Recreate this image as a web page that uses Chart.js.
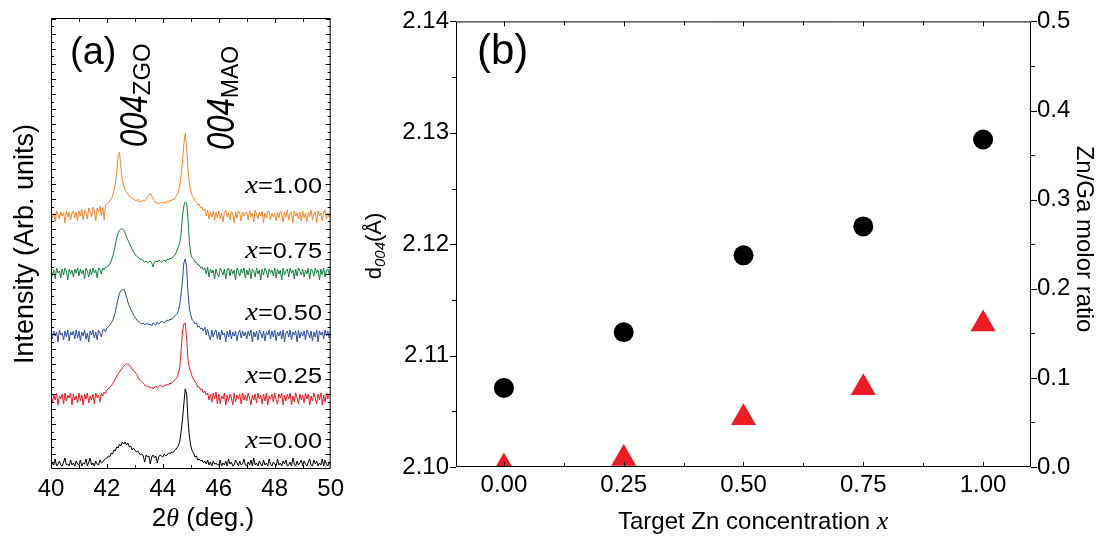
<!DOCTYPE html>
<html>
<head>
<meta charset="utf-8">
<script src="https://cdn.jsdelivr.net/npm/chart.js@4.4.0/dist/chart.umd.min.js"></script>
<style>
  body { margin: 0; background: #fff; }
  #wrap { position: relative; width: 1105px; height: 542px; }
  #xrd { position: absolute; left: 0; top: 0; }
  #dsp { position: absolute; left: 350px; top: 0; }
</style>
</head>
<body>
<div id="wrap">
  <canvas id="xrd" width="350" height="542"></canvas>
  <canvas id="dsp" width="755" height="542"></canvas>
</div>
<script>
// ---- (a) XRD scans, 2theta 40..50 deg, 0.05 deg step ----
const twoTheta = Array.from({ length: 201 }, (_, i) => +(40 + i * 0.05).toFixed(2));

// intensity above each trace's own baseline (arb. units), one row per degree
const scanX100 = [
  2, -4, 1, -8, 3, 0, -5, 2, -2, 1, -9, 3, -3, 2, -6, 1, 3, -4, 2, -7,
  3, -2, 5, -6, 4, 1, -5, 6, 2, -3, 7, 3, -7, 6, 2, 8, -2, 7, -6, 9,
  10, 11, 13, 15, 18, 23, 30, 42, 58, 62, 46, 34, 28, 24, 22, 20, 18, 17, 16, 15,
  14, 13, 15, 12, 13, 12, 14, 13, 15, 17, 19, 21, 18, 15, 13, 11, 12, 10, 11, 12,
  11, 12, 10, 13, 12, 14, 13, 15, 14, 17, 19, 22, 28, 38, 52, 70, 81, 66, 44, 30,
  23, 18, 17, 13, 12, 9, 10, 6, 7, 3, 5, -2, 4, -5, 2, -3, 3, -6, 2, -4,
  3, -5, 1, -8, 2, 4, -3, 1, -6, 3, 0, -9, 2, -4, 3, 1, -7, 2, -2, 1,
  2, -6, 3, -3, 1, -8, 4, 0, -5, 2, -2, 3, -9, 1, -4, 3, 2, -6, 1, -3,
  1, -7, 2, -4, 3, 0, -8, 2, -3, 4, -6, 1, 2, -9, 3, -2, 1, -5, 2, -7,
  3, -4, 1, -8, 2, -3, 4, -6, 0, 2, -9, 3, -2, 1, -7, 2, 4, -5, 1, -3,
  1
];
const scanX075 = [
  2, -5, 1, -8, 3, -2, 0, -7, 2, -4, 3, 0, -9, 2, -3, 1, -6, 2, -2, 3,
  -5, 2, -3, 1, -8, 3, 0, -6, 2, -4, 3, -2, 1, -7, 3, 2, -3, 3, 1, 4,
  4, 5, 7, 10, 14, 19, 26, 33, 38, 41, 42, 42, 41, 38, 34, 31, 28, 25, 22, 19,
  17, 15, 14, 13, 11, 12, 10, 9, 10, 8, 9, 10, 8, 4, 9, 10, 9, 11, 10, 9,
  10, 11, 9, 12, 11, 13, 12, 14, 15, 17, 20, 24, 28, 36, 55, 65, 69, 68, 52, 28,
  17, 13, 12, 9, 9, 6, 6, 3, 4, 1, 3, -3, 4, -6, 2, -2, 1, -8, 2, -3,
  -6, 3, 0, -4, 2, -8, 1, 3, -5, 2, -3, 1, -9, 3, 0, -5, 2, -2, 3, -7,
  1, -4, 3, -8, 2, 0, -6, 3, -3, 1, -9, 2, -4, 3, 0, -7, 2, -2, 1, -5,
  3, -7, 2, -3, 1, -9, 3, -4, 0, 2, -6, 3, -2, 1, -8, 2, -5, 3, 0, -4,
  2, -6, 1, -3, 3, -8, 2, 0, -5, 3, -2, 1, -9, 2, -4, 3, -6, 1, 2, -3,
  2
];
const scanX050 = [
  0, -6, 2, -3, 1, -9, 3, -2, 0, -7, 2, -4, 3, -8, 1, -2, 2, -6, 3, -5,
  2, -8, 1, -3, 3, -6, 0, -9, 2, -2, 3, -5, 1, -7, 3, 0, -4, 3, 4, 1,
  5, 6, 8, 10, 12, 16, 21, 28, 34, 40, 42, 43, 44, 41, 36, 31, 27, 24, 21, 18,
  16, 14, 12, 11, 10, 9, 10, 8, 9, 10, 8, 9, 7, 10, 9, 8, 11, 9, 10, 12,
  11, 10, 12, 13, 12, 14, 13, 15, 16, 18, 19, 22, 28, 38, 52, 70, 74, 66, 40, 24,
  18, 13, 12, 9, 10, 6, 7, 4, 5, 2, 6, -2, 4, -3, -7, 3, -4, 1, 3, -6,
  1, -7, 3, -2, 0, -9, 2, -4, 3, -6, 1, -3, 2, -8, 0, 3, -5, 2, -3, 1,
  -6, 2, -3, 3, -9, 1, -4, 2, -7, 3, 0, -5, 2, -8, 1, -2, 3, -6, 2, -4,
  3, -8, 1, -3, 2, -6, 3, -9, 0, 2, -4, 3, -7, 1, -2, 2, -9, 3, -5, 1,
  -3, 2, -7, 3, 0, -5, 2, -8, 1, -4, 3, -9, 2, -2, 1, -6, 3, -3, 2, -5,
  2
];
const scanX025 = [
  2, -7, 1, -4, 3, -9, 0, -3, 2, -8, 3, -5, 1, -2, 3, -9, 2, -4, 0, -7,
  3, -5, 1, -9, 2, -3, 3, -7, 0, -4, 2, -8, 3, -2, 1, -6, 3, 0, 4, 2,
  6, 7, 9, 10, 12, 14, 17, 20, 22, 24, 26, 28, 30, 31, 32, 32, 31, 29, 27, 25,
  24, 22, 20, 17, 15, 14, 13, 11, 10, 9, 10, 8, 9, 7, 9, 10, 8, 9, 11, 10,
  9, 11, 10, 12, 11, 13, 12, 14, 15, 17, 18, 22, 28, 44, 64, 72, 73, 58, 36, 28,
  24, 19, 17, 14, 13, 9, 9, 6, 7, 3, 5, 1, 3, -4, 2, -6, 3, -3, 4, -8,
  2, -8, 0, -3, 3, -9, 1, -5, 2, -2, -9, 3, -6, 1, -3, 2, -8, 3, -4, 1,
  -5, 3, -2, -9, 1, -4, 2, -7, 3, -3, 1, -8, 2, -5, 3, -9, 0, -3, 2, -6,
  3, -4, -8, 2, -2, 3, -9, 1, -5, 2, -3, 3, -9, 0, -6, 3, -2, -8, 2, -4,
  1, -7, 3, -3, 2, -9, 0, -5, 3, -2, -8, 2, -4, 3, -9, 1, -6, 3, -3, 2,
  2
];
const scanX000 = [
  0, 3, 1, 7, 0, 2, 5, 1, 0, 4, 8, 1, 2, 0, 6, 1, 3, 0, 5, 2,
  1, 6, 0, 3, 2, 7, 0, 4, 8, 1, 3, 0, 5, 2, 1, 6, 3, 4, 6, 7,
  8, 10, 9, 13, 12, 16, 15, 19, 18, 22, 20, 24, 22, 24, 21, 23, 19, 20, 16, 18,
  16, 14, 15, 13, 11, 12, 10, 4, 11, 9, 10, 2, 9, 11, 8, 10, 3, 9, 11, 10,
  9, 12, 10, 11, 13, 12, 14, 13, 15, 16, 18, 20, 24, 34, 46, 62, 77, 72, 46, 29,
  20, 15, 13, 9, 10, 6, 7, 5, 6, 3, 5, 2, 6, 1, 4, 0, 5, 2, 3, 1,
  1, 6, 0, 3, 1, 5, 0, 7, 2, 4, 0, 1, 6, 3, 0, 5, 1, 2, 7, 1,
  0, 4, 1, 6, 0, 8, 1, 3, 0, 5, 2, 0, 6, 1, 3, 0, 7, 2, 0, 4,
  2, 0, 7, 1, 3, 0, 5, 2, 6, 0, 1, 4, 0, 8, 2, 0, 5, 1, 3, 6,
  0, 5, 2, 0, 4, 7, 1, 0, 6, 2, 5, 0, 3, 1, 7, 0, 6, 2, 0, 4,
  1
];

const znTarget = [1.00, 0.75, 0.50, 0.25, 0.00];
const scans = [scanX100, scanX075, scanX050, scanX025, scanX000];
const scanOffsets = [255, 198, 136, 73, 3];
const scanColors = ['#F4862C', '#17803F', '#2C4F9F', '#EC1C24', '#000000'];
const xrdTicks = [40, 42, 44, 46, 48, 50];

// ---- (b) d-spacing and Zn/Ga ratio vs target x ----
const targetX = [0.00, 0.25, 0.50, 0.75, 1.00];
const d004 = [2.1071, 2.1121, 2.1190, 2.1216, 2.1294];
const znGaRatio = [0.000, 0.0095, 0.0552, 0.0888, 0.1605];
const concTicks = [0.00, 0.25, 0.50, 0.75, 1.00];
const dTicks = [2.10, 2.11, 2.12, 2.13, 2.14];
const ratioTicks = [0.0, 0.1, 0.2, 0.3, 0.4, 0.5];

const SANS = "'Liberation Sans', Arial, sans-serif";
const SERIF = "'Liberation Serif', 'Times New Roman', serif";

Chart.defaults.font.family = SANS;
Chart.defaults.color = '#000';
Chart.defaults.animation = false;

// mixed-font text run, optionally rotated / stretched
function richText(ctx, parts, x, y, angle, align, sx) {
  ctx.save();
  ctx.translate(x, y);
  ctx.rotate(angle || 0);
  ctx.scale(sx || 1, 1);
  let w = 0;
  parts.forEach(p => { ctx.font = p.font; w += ctx.measureText(p.text).width; });
  let cx = align === 'center' ? -w / 2 : align === 'right' ? -w : 0;
  ctx.fillStyle = '#000';
  ctx.textAlign = 'left';
  ctx.textBaseline = 'alphabetic';
  parts.forEach(p => {
    ctx.font = p.font;
    ctx.save();
    ctx.translate(cx, p.dy || 0);
    if (p.sy) ctx.scale(1, p.sy);
    ctx.fillText(p.text, 0, 0);
    ctx.restore();
    cx += ctx.measureText(p.text).width;
  });
  ctx.restore();
}

function tick(ctx, x1, y1, x2, y2) {
  ctx.moveTo(x1, y1);
  ctx.lineTo(x2, y2);
}

const xrdDecor = {
  id: 'xrdDecor',
  afterDatasetsDraw(chart) {
    const { ctx, chartArea: a, scales: { x, y } } = chart;
    ctx.save();
    ctx.strokeStyle = '#000';
    ctx.lineWidth = 1;
    ctx.beginPath();
    ctx.rect(a.left + 0.5, a.top + 0.5, a.right - a.left - 1, a.bottom - a.top - 1);
    for (let d = 41; d < 50; d++) {
      const px = Math.round(x.getPixelForValue(d)) + 0.5;
      const len = d % 2 === 0 ? 5 : 4;
      tick(ctx, px, a.top, px, a.top + len);
      tick(ctx, px, a.bottom, px, a.bottom - len);
    }
    for (let k = 1; k * 7.5 < 451; k++) {
      const py = Math.round(y.getPixelForValue(k * 7.5)) + 0.5;
      const len = k % 2 === 0 ? 5 : 3;
      tick(ctx, a.left, py, a.left + len, py);
      tick(ctx, a.right, py, a.right - len, py);
    }
    ctx.stroke();
    ctx.restore();

    richText(ctx, [{ text: '(a)', font: `38px ${SANS}` }], 70, 64, 0, 'left');
    richText(ctx, [
      { text: '004', font: `italic 31px ${SANS}`, sy: 1.25 },
      { text: 'ZGO', font: `24px ${SANS}`, dy: 3 }
    ], 147, 147, -Math.PI / 2, 'left');
    richText(ctx, [
      { text: '004', font: `italic 31px ${SANS}`, sy: 1.25 },
      { text: 'MAO', font: `23px ${SANS}`, dy: 4 }
    ], 234, 150, -Math.PI / 2, 'left');

    const labelLift = [21, 13, 13, 13, 18];
    znTarget.forEach((v, i) => {
      const py = y.getPixelForValue(scanOffsets[i]) - labelLift[i];
      richText(ctx, [
        { text: 'x', font: `italic 25px ${SERIF}` },
        { text: '=' + v.toFixed(2), font: `22px ${SANS}` }
      ], 322, py, 0, 'right', 1.15);
    });

    richText(ctx, [
      { text: '2', font: `26px ${SANS}` },
      { text: 'θ', font: `italic 26px ${SERIF}` },
      { text: ' (deg.)', font: `26px ${SANS}` }
    ], 203, 526, 0, 'center');
    richText(ctx, [{ text: 'Intensity (Arb. units)', font: `27px ${SANS}` }],
      33, 244, -Math.PI / 2, 'center');
  }
};

new Chart(document.getElementById('xrd'), {
  type: 'line',
  data: {
    datasets: scans.map((s, k) => ({
      label: 'x=' + znTarget[k].toFixed(2),
      data: twoTheta.map((t, i) => ({ x: t, y: scanOffsets[k] + s[i] })),
      borderColor: scanColors[k],
      borderWidth: 1,
      pointRadius: 0,
      tension: 0,
      order: 5 - k
    }))
  },
  options: {
    responsive: false,
    devicePixelRatio: 1,
    events: [],
    layout: { padding: { top: 18, right: 15, left: 0, bottom: 0 } },
    plugins: { legend: { display: false }, tooltip: { enabled: false } },
    scales: {
      x: {
        type: 'linear', min: 40, max: 50,
        afterBuildTicks: s => { s.ticks = xrdTicks.map(v => ({ value: v })); },
        ticks: { font: { size: 24 }, color: '#000', padding: 6, maxRotation: 0, autoSkip: false },
        grid: { display: false, drawTicks: false },
        border: { display: false },
        afterFit: s => { s.height = 73; }
      },
      y: {
        type: 'linear', min: 0, max: 451,
        ticks: { display: false },
        grid: { display: false, drawTicks: false },
        border: { display: false },
        afterFit: s => { s.width = 51; }
      }
    }
  },
  plugins: [xrdDecor]
});

const dspDecor = {
  id: 'dspDecor',
  afterDatasetsDraw(chart) {
    const { ctx, chartArea: a, scales: { x, y, y2 } } = chart;
    ctx.save();
    ctx.strokeStyle = '#000';
    ctx.lineWidth = 1;
    ctx.beginPath();
    ctx.rect(a.left + 0.5, a.top + 0.5, a.right - a.left - 1, a.bottom - a.top - 1);
    for (let i = 0; i <= 8; i++) {
      const px = Math.round(x.getPixelForValue(i * 0.125)) + 0.5;
      const len = i % 2 === 0 ? 5 : 4;
      tick(ctx, px, a.top, px, a.top + len);
      tick(ctx, px, a.bottom, px, a.bottom - len);
    }
    for (let i = 0; i <= 8; i++) {
      const py = Math.round(y.getPixelForValue(2.10 + i * 0.005)) + 0.5;
      tick(ctx, a.left, py, a.left - (i % 2 === 0 ? 6 : 4), py);
    }
    for (let i = 0; i <= 10; i++) {
      const py = Math.round(y2.getPixelForValue(i * 0.05)) + 0.5;
      tick(ctx, a.right, py, a.right + (i % 2 === 0 ? 6 : 4), py);
    }
    ctx.stroke();
    ctx.restore();

    richText(ctx, [{ text: '(b)', font: `42px ${SANS}` }], 127, 64, 0, 'left');
    richText(ctx, [
      { text: 'Target Zn concentration ', font: `24px ${SANS}` },
      { text: 'x', font: `italic 26px ${SERIF}` }
    ], 268, 529, 0, 'left');
    richText(ctx, [
      { text: 'd', font: `22px ${SANS}` },
      { text: '004', font: `italic 15px ${SANS}`, dy: 4 },
      { text: '(Å)', font: `22px ${SANS}` }
    ], 31, 246, -Math.PI / 2, 'center');
    richText(ctx, [{ text: 'Zn/Ga molor ratio', font: `24px ${SANS}` }],
      727, 239, Math.PI / 2, 'center');
  }
};

new Chart(document.getElementById('dsp'), {
  type: 'scatter',
  data: {
    datasets: [
      {
        label: 'd004',
        data: targetX.map((v, i) => ({ x: v, y: d004[i] })),
        yAxisID: 'y',
        pointStyle: 'circle',
        pointRadius: 10,
        backgroundColor: '#000',
        borderColor: '#000',
        borderWidth: 0
      },
      {
        label: 'Zn/Ga',
        data: targetX.map((v, i) => ({ x: v, y: znGaRatio[i] })),
        yAxisID: 'y2',
        pointStyle: 'triangle',
        pointRadius: 14.5,
        backgroundColor: '#ED1C24',
        borderColor: '#ED1C24',
        borderWidth: 0
      }
    ]
  },
  options: {
    responsive: false,
    devicePixelRatio: 1,
    events: [],
    layout: { padding: { top: 21, right: 0, left: 0, bottom: 0 } },
    plugins: { legend: { display: false }, tooltip: { enabled: false } },
    scales: {
      x: {
        type: 'linear', min: -0.1, max: 1.1,
        afterBuildTicks: s => { s.ticks = concTicks.map(v => ({ value: v })); },
        ticks: { font: { size: 24 }, color: '#000', padding: 4, maxRotation: 0, autoSkip: false,
                 callback: v => v.toFixed(2) },
        grid: { display: false, drawTicks: false },
        border: { display: false },
        afterFit: s => { s.height = 75; }
      },
      y: {
        type: 'linear', position: 'left', min: 2.10, max: 2.14,
        afterBuildTicks: s => { s.ticks = dTicks.map(v => ({ value: v })); },
        ticks: { font: { size: 24 }, color: '#000', padding: 7, callback: v => v.toFixed(2) },
        grid: { display: false, drawTicks: false },
        border: { display: false },
        afterFit: s => { s.width = 106; }
      },
      y2: {
        type: 'linear', position: 'right', min: 0, max: 0.5,
        afterBuildTicks: s => { s.ticks = ratioTicks.map(v => ({ value: v })); },
        ticks: { font: { size: 24 }, color: '#000', padding: 6, callback: v => v.toFixed(1) },
        grid: { display: false, drawTicks: false },
        border: { display: false },
        afterFit: s => { s.width = 74; }
      }
    }
  },
  plugins: [dspDecor]
});
</script>
</body>
</html>
